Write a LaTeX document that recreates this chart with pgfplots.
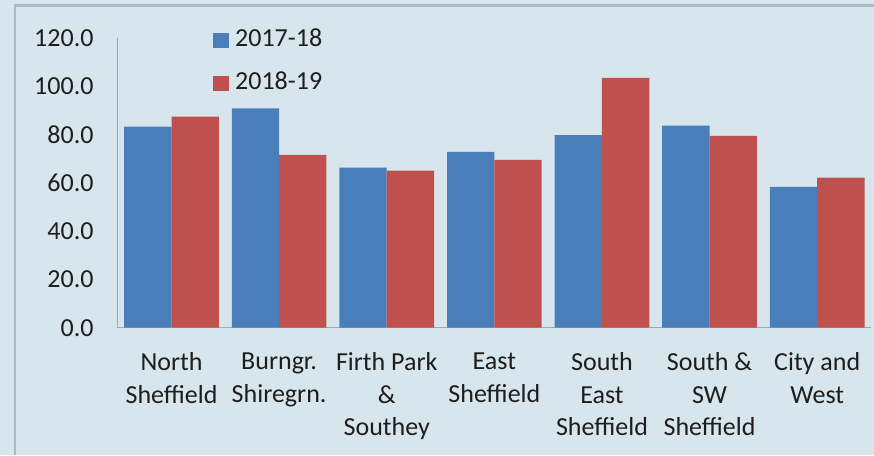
\documentclass[border=0pt]{standalone}
\usepackage{pgfplots}
\pgfplotsset{compat=1.18}
\usepackage{fontspec}
\setmainfont{Carlito}
\definecolor{bg}{RGB}{214,230,236}
\definecolor{frame}{RGB}{168,188,196}
\definecolor{barblue}{RGB}{74,126,187}
\definecolor{barred}{RGB}{192,80,77}
\definecolor{axisgray}{RGB}{160,170,175}
\definecolor{txt}{RGB}{30,30,30}
\begin{document}
\fontsize{26}{32.5}\selectfont
\begin{tikzpicture}[x=1pt,y=1pt]
\path[use as bounding box, fill=bg] (0,0) rectangle (874,455);
\draw[frame, line width=2.5pt] (15,0) -- (15,449.3) -- (874,449.3);
\begin{axis}[
  at={(117.7pt,127.3pt)}, anchor=south west,
  scale only axis, width=753.3pt, height=290pt,
  xmin=-0.5, xmax=6.5, ymin=0, ymax=120,
  ybar=0pt, bar width=0.44,
  axis x line*=bottom, axis y line*=left,
  axis line style={axisgray, line width=1pt, -},
  major tick length=0pt,
  xtick={0,1,2,3,4,5,6},
  xticklabels={{North\\Sheffield},{Burngr.\\Shiregrn.},{Firth Park\\\&\\Southey},{East\\Sheffield},{South\\East\\Sheffield},{South \&\\SW\\Sheffield},{City and\\West}},
  xticklabel style={align=center, anchor=north, inner sep=0pt, yshift=-25pt, text=txt},
  ytick={0,20,...,120},
  yticklabel style={anchor=east, inner sep=0pt, xshift=-24pt, text=txt},
  /pgf/number format/.cd, fixed, fixed zerofill, precision=1, assume math mode=true,
  /pgfplots/.cd,
  legend style={at={(0.1265,1.033)}, anchor=north west, draw=none, fill=none,
    inner sep=0pt, row sep=20pt, column sep=6pt,
    nodes={inner sep=0pt, text=txt, text height=18pt, text depth=5pt}},
  legend cell align=left,
  legend image code/.code={\fill[#1] (0pt,-8pt) rectangle (16pt,7pt);},
]
\addplot[fill=barblue, draw=none] coordinates {(0,83.2) (1,90.8) (2,66.2) (3,72.8) (4,79.7) (5,83.6) (6,58.3)};
\addplot[fill=barred, draw=none] coordinates {(0,87.3) (1,71.5) (2,65.0) (3,69.4) (4,103.4) (5,79.4) (6,62.1)};
\legend{2017-18,2018-19}
\end{axis}
\end{tikzpicture}
\end{document}
